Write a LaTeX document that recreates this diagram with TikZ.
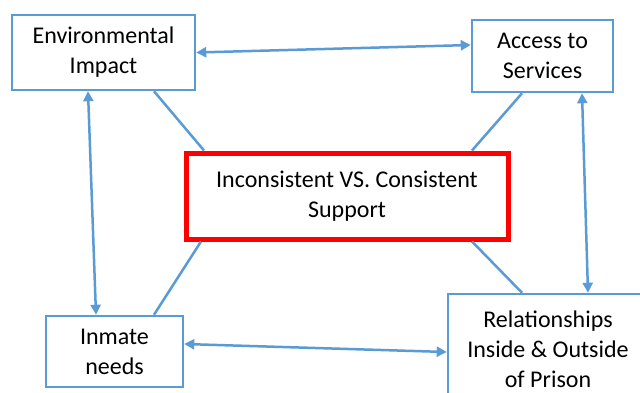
\documentclass[tikz,border=0pt]{standalone}
\usepackage{fontspec}
\setmainfont{Carlito}
\usetikzlibrary{arrows.meta}
\definecolor{linkblue}{HTML}{5B9BD5}
\definecolor{corered}{HTML}{FF0000}
\tikzset{
  factor/.style={draw=linkblue, line width=2.5pt, fill=white, align=center,
    inner sep=0pt, font=\fontsize{24}{30}\selectfont},
  core/.style={draw=corered, line width=5pt, fill=white, align=center,
    inner sep=0pt, font=\fontsize{24}{30}\selectfont},
  link/.style={draw=linkblue, line width=2.5pt},
  both/.style={link, {Triangle[length=10pt,width=10pt]}-{Triangle[length=10pt,width=10pt]}}
}
\begin{document}
\begin{tikzpicture}[x=1pt, y=-1pt]
  \clip (0,0) rectangle (640,392);
  \fill[white] (0,0) rectangle (640,392);

  % central box and the four factors around it
  \node[core, minimum width=322pt, minimum height=86pt] (core) at (347,196)
    {Inconsistent VS. Consistent\\Support};
  \node[factor, minimum width=183pt, minimum height=75pt] (env) at (103.5,52.5)
    {Environmental\\Impact};
  \node[factor, minimum width=141pt, minimum height=72pt] (acc) at (542.5,56)
    {Access to\\Services};
  \node[factor, minimum width=137pt, minimum height=71pt] (inm) at (114.5,351.5)
    {Inmate\\needs};
  \node[factor, minimum width=200pt, minimum height=110pt] (rel) at (548,349)
    {Relationships\\Inside \& Outside\\of Prison};

  % plain links from the factors to the central box
  \draw[link] ([xshift=50.5pt]env.south) -- ([xshift=-143pt]core.north);
  \draw[link] ([xshift=-20.5pt]acc.south) -- ([xshift=125pt]core.north);
  \draw[link] ([xshift=-146pt]core.south) -- ([xshift=39.5pt]inm.north);
  \draw[link] ([xshift=125pt]core.south) -- ([xshift=-26pt]rel.north);

  % two-way arrows between neighbouring factors
  \draw[both] (env.east) -- ([yshift=11pt]acc.west);
  \draw[both] ([xshift=-15.5pt]env.south) -- ([xshift=-18.5pt]inm.north);
  \draw[both] ([xshift=39.5pt]acc.south) -- ([xshift=40pt]rel.north);
  \draw[both] ([yshift=7.5pt]inm.east) -- ([yshift=-3pt]rel.west);
\end{tikzpicture}
\end{document}
